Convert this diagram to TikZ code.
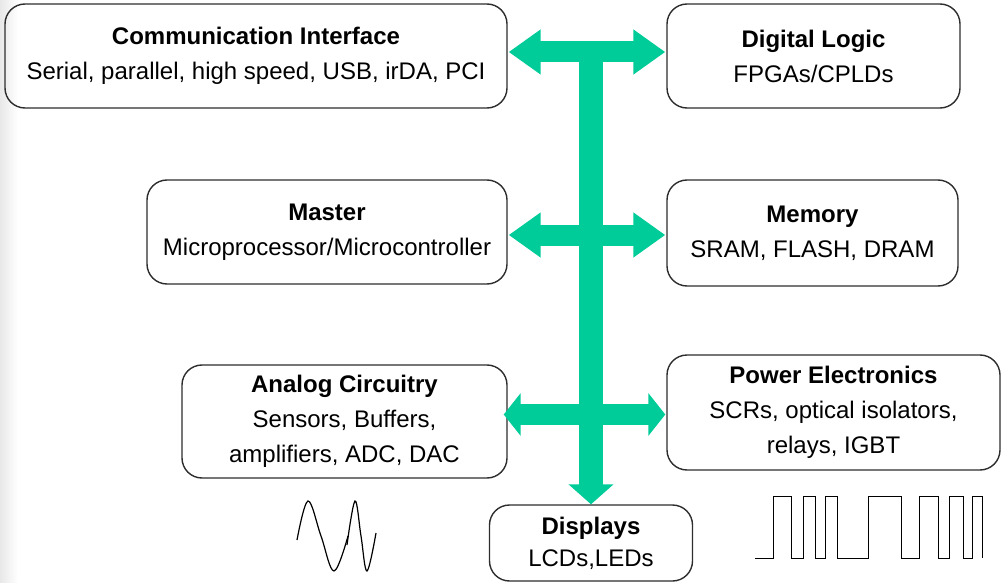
\documentclass[tikz,border=0pt]{standalone}
\usepackage{fontspec}
\setmainfont{Liberation Sans}
\usepackage{xcolor}
\usetikzlibrary{arrows.meta, positioning, calc}

\definecolor{busgreen}{RGB}{0,204,153}
\definecolor{boxline}{RGB}{45,45,45}

\begin{document}
\begin{tikzpicture}[x=1pt, y=-1pt,
    unit/.style={draw=boxline, line width=1.4pt, rounded corners=20pt,
      inner sep=0pt, align=center, font=\fontsize{24}{35}\selectfont},
    bus/.style={busgreen, line width=21pt},
    bigtip/.tip={Triangle[length=32pt, width=43pt]},
    smalltip/.tip={Triangle[length=17pt, width=42pt]},
    wave/.style={black, line width=1.2pt}]
  \useasboundingbox (0,0) rectangle (1002,583);
  \fill[left color=black!9, right color=white] (0,0) rectangle (18,583);
  % Blocos
  \node[unit, minimum width=502pt, minimum height=104pt] (comm) at (256,56)
    {\textbf{Communication Interface}\\Serial, parallel, high speed, USB, irDA, PCI};
  \node[unit, minimum width=293pt, minimum height=104pt] (dig) at (813.5,56)
    {\textbf{Digital Logic}\\FPGAs/CPLDs};
  \node[unit, minimum width=360pt, minimum height=104pt] (mst) at (327,232)
    {\textbf{Master}\\Microprocessor/Microcontroller};
  \node[unit, minimum width=291pt, minimum height=106pt] (mem) at (812.5,233)
    {\textbf{Memory}\\SRAM, FLASH, DRAM};
  \node[unit, minimum width=325pt, minimum height=113pt] (anlg) at (344.5,421.5)
    {\textbf{Analog Circuitry}\\Sensors, Buffers,\\amplifiers, ADC, DAC};
  \node[unit, minimum width=333pt, minimum height=115pt] (pwr) at (833.5,412.5)
    {\textbf{Power Electronics}\\SCRs, optical isolators,\\relays, IGBT};
  \node[unit, minimum width=203pt, minimum height=76pt,
    font=\fontsize{24}{32}\selectfont] (disp) at (591,543)
    {\textbf{Displays}\\LCDs,LEDs};
  % Barramento
  \draw[bus, bigtip-bigtip] ($(comm.east)+(1,-4)$) -- ($(dig.west)+(-1,-4)$);
  \draw[bus, bigtip-bigtip] ($(mst.east)+(1,3)$) -- ($(mem.west)+(-1,2)$);
  \draw[bus, smalltip-smalltip] ($(anlg.east |- pwr.west)+(-4,2)$) -- ($(pwr.west)+(-1,2)$);
  \coordinate (bustop) at ($(comm.east)!0.5!(dig.west)+(0,-4)$);
  \draw[bus, line width=24pt, -{Triangle[length=20pt, width=44pt]}]
    (bustop -| disp.north) -- (disp.north);
  % Sinais
  \draw[wave] plot[smooth, tension=0.6] coordinates
    {(297,540) (308,501) (321,536) (334,571) (348,536)};
  \draw[wave] plot[smooth, tension=0.6] coordinates
    {(347,545) (355,501) (361,536) (367,571) (376,533)};
  \draw[wave, line width=1pt] (755,558) -- (773,558) -- (773,496) -- (791,496) -- (791,558)
    -- (803,558) -- (803,496) -- (815,496) -- (815,558) -- (825,558) -- (825,496)
    -- (837,496) -- (837,558) -- (868,558) -- (868,496) -- (901,496) -- (901,558)
    -- (919,558) -- (919,496) -- (938,496) -- (938,558) -- (949,558) -- (949,496)
    -- (963,496) -- (963,558) -- (972,558) -- (972,496) -- (982,496) -- (982,558);
\end{tikzpicture}
\end{document}
